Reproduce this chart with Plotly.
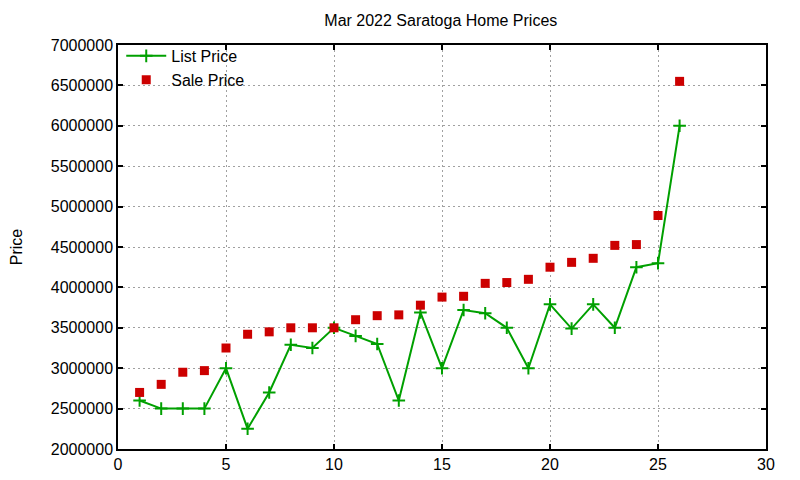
import plotly.graph_objects as go

# home index (1..26) vs list / sale price
homes = list(range(1, 27))
list_price = [2600000, 2500000, 2500000, 2500000, 3000000, 2250000, 2700000, 3290000,
              3250000, 3500000, 3400000, 3300000, 2600000, 3690000, 3000000, 3720000,
              3680000, 3500000, 3000000, 3790000, 3490000, 3790000, 3500000, 4250000,
              4300000, 6000000]
sale_price = [2700000, 2800000, 2950000, 2970000, 3250000, 3420000, 3450000, 3500000,
              3500000, 3500000, 3600000, 3650000, 3660000, 3780000, 3880000, 3890000,
              4050000, 4060000, 4100000, 4250000, 4310000, 4360000, 4520000, 4530000,
              4890000, 6550000]

font = dict(family="Liberation Sans, Arial, sans-serif", size=16, color="black")

fig = go.Figure()
fig.add_trace(go.Scatter(
    x=homes, y=list_price, name="List Price", mode="lines+markers",
    line=dict(color="#00a000", width=2),
    marker=dict(symbol="cross-thin", size=9, line=dict(color="#00a000", width=2))))
fig.add_trace(go.Scatter(
    x=homes, y=sale_price, name="Sale Price", mode="markers",
    marker=dict(symbol="square", size=9, color="#cc0000")))

axis = dict(showline=True, linecolor="black", linewidth=1.5, mirror="allticks",
            ticks="inside", ticklen=5, tickcolor="black", tickwidth=1.5,
            showgrid=True, gridcolor="#a0a0a0", griddash="2px,3px", gridwidth=1,
            zeroline=False, tickfont=font, automargin=False)

# the page body adds an 8px offset, margins compensate for it
fig.update_layout(
    width=800, height=480,
    paper_bgcolor="white", plot_bgcolor="white",
    font=font,
    margin=dict(l=110, r=42, t=37, b=39),
    title=dict(text="Mar 2022 Saratoga Home Prices", x=0.541, xanchor="center",
               y=0.975, yanchor="middle", font=font),
    xaxis=dict(range=[0, 30], dtick=5, **axis),
    yaxis=dict(range=[2000000, 7000000], dtick=500000, tickformat="d",
               title=dict(text="Price", font=font, standoff=31), **axis),
    legend=dict(x=0.005, y=1.015, xanchor="left", yanchor="top", bgcolor="rgba(0,0,0,0)",
                font=font, tracegroupgap=0, itemwidth=40),
    showlegend=True,
)

fig.write_html("out.html")
